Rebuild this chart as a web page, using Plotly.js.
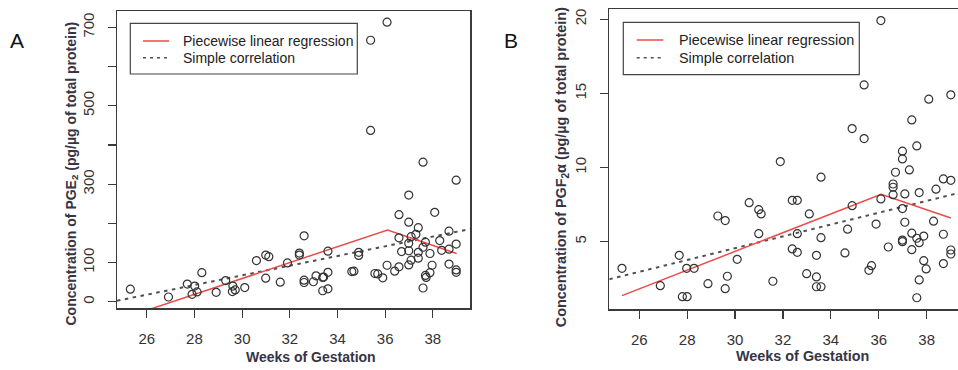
<!DOCTYPE html>
<html>
<head>
<meta charset="utf-8">
<script src="https://cdn.plot.ly/plotly-3.0.1.min.js"></script>
<style>html,body{margin:0;padding:0;background:#fff;overflow:hidden;}#chart{width:958px;height:370px;}</style>
</head>
<body>
<div id="chart"></div>
<script>
// ---------- Panel A : PGE2 ----------
const weeksA = [25.31,26.91,27.70,28.01,27.90,28.11,28.31,28.91,29.31,29.61,29.59,29.71,30.11,30.60,30.99,31.12,30.99,31.60,31.90,32.40,32.40,32.60,32.60,32.60,32.99,33.10,33.38,33.42,33.38,33.60,33.60,33.60,34.60,34.69,34.89,34.89,35.39,36.08,35.39,35.57,35.69,35.90,36.08,36.40,36.58,36.58,36.58,36.69,36.99,36.99,36.99,36.99,36.99,37.09,37.09,37.29,37.39,37.39,37.39,37.59,37.59,37.59,37.69,37.69,37.72,37.88,37.88,37.97,38.08,38.29,38.37,38.68,38.68,38.68,38.98,38.98,38.98,38.98];
const pge2 = [32,12,45,40,19,25,74,24,54,40,26,30,36,105,119,115,60,50,99,124,119,168,55,49,51,66,62,63,28,33,75,129,77,78,126,118,667,713,437,72,71,61,93,78,89,163,222,128,272,203,149,130,94,166,106,172,189,126,111,356,139,35,152,67,62,74,123,93,228,156,131,180,134,96,310,147,81,75];
const pieceA_x = [25.3, 36.1, 39.0];
const pieceA_y = [-36, 183, 123];
const corrA_x = [24.75, 39.56];
const corrA_y = [2.5, 185.3];
const yTicksA = [0,100,300,500,700];   // labelled ticks (R skips 200/400/600 labels)
const yMinorStepA = 100;               // unlabelled ticks every 100

// ---------- Panel B : PGF2alpha ----------
const weeksB = [25.28,26.88,27.67,27.98,28.29,27.80,28.00,28.87,29.28,29.59,29.68,29.59,30.09,30.59,30.99,31.09,30.99,31.58,31.89,32.39,32.60,32.39,32.60,32.60,33.10,32.99,33.40,33.40,33.40,33.59,33.59,33.59,34.59,34.70,34.89,34.89,35.39,35.39,35.59,35.70,35.89,36.09,36.09,36.40,36.60,36.60,36.60,36.70,36.99,36.99,36.99,36.99,36.99,37.09,37.09,37.28,37.38,37.38,37.38,37.59,37.59,37.59,37.69,37.69,37.69,37.88,37.88,37.98,38.09,38.29,38.39,38.70,38.70,38.70,39.01,39.01,39.01,39.01];
const pgf2a = [3.20,2.03,4.08,3.20,3.20,1.29,1.29,2.17,6.73,6.42,2.67,1.83,3.81,7.63,7.16,6.87,5.54,2.33,10.40,7.79,7.79,4.51,4.28,5.54,6.87,2.84,2.62,4.08,1.96,1.96,9.35,5.27,4.24,5.84,12.63,7.43,15.57,11.95,3.07,3.38,6.19,19.91,7.88,4.64,8.89,8.67,8.17,9.68,11.10,10.58,7.23,5.11,5.00,8.22,6.31,9.84,13.21,5.57,4.46,11.46,5.23,1.22,4.93,8.31,2.42,5.38,3.72,3.16,14.61,6.38,8.54,9.23,5.50,3.52,14.90,9.14,4.44,4.17];
const pieceB_x = [25.28, 36.1, 39.01];
const pieceB_y = [1.36, 8.2, 6.6];
const corrB_x = [24.75, 39.56];
const corrB_y = [2.47, 8.37];
const yTicksB = [5,10,15,20];
const xTicks = [26,28,30,32,34,36,38];

const legendLabels = ['Piecewise linear regression', 'Simple correlation'];
const xTitle = 'Weeks of Gestation';
const yTitleA = 'Concentration of PGE<sub>2</sub> (pg/µg of total protein)';
const yTitleB = 'Concentration of PGF<sub>2</sub>α (pg/µg of total protein)';

// ---------- helpers ----------
const W = 958, H = 370;
const px = x => x / W;
const py = y => 1 - y / H;
const FONT = 'Liberation Sans, Arial, sans-serif';
const RED = '#ef4a4a';
const DOT = '#505050';
const AX = '#3a3a3a';

const markerStyle = {symbol: 'circle-open', size: 8, color: '#333', line: {color: '#333', width: 1.2}};

const traces = [
  {x: corrA_x, y: corrA_y, xaxis: 'x', yaxis: 'y', mode: 'lines', line: {color: DOT, width: 2, dash: '3.5px,4.5px'}, showlegend: false},
  {x: pieceA_x, y: pieceA_y, xaxis: 'x', yaxis: 'y', mode: 'lines', line: {color: RED, width: 1.5}, showlegend: false},
  {x: weeksA, y: pge2, xaxis: 'x', yaxis: 'y', mode: 'markers', marker: markerStyle, showlegend: false, cliponaxis: false},
  {x: corrB_x, y: corrB_y, xaxis: 'x2', yaxis: 'y2', mode: 'lines', line: {color: DOT, width: 2, dash: '3.5px,4.5px'}, showlegend: false},
  {x: pieceB_x, y: pieceB_y, xaxis: 'x2', yaxis: 'y2', mode: 'lines', line: {color: RED, width: 1.5}, showlegend: false},
  {x: weeksB, y: pgf2a, xaxis: 'x2', yaxis: 'y2', mode: 'markers', marker: markerStyle, showlegend: false, cliponaxis: false}
];

const tickFont = {family: FONT, size: 15, color: '#333'};
function xaxisDef(domain, range, mirror) {
  return {domain: domain, range: range, showgrid: false, zeroline: false, showline: true, mirror: mirror,
    linecolor: AX, linewidth: 1.5, ticks: 'outside', ticklen: 8, tickwidth: 1.2, tickcolor: AX,
    tickvals: xTicks, ticktext: xTicks.map(String), tickfont: tickFont, ticklabelstandoff: 8, fixedrange: true};
}
function yaxisDef(domain, range, vals, anchor, mirror) {
  return {domain: domain, range: range, anchor: anchor, showgrid: false, zeroline: false, showline: true, mirror: mirror,
    linecolor: AX, linewidth: 1.5, ticks: 'outside', ticklen: 8, tickwidth: 1.2, tickcolor: AX,
    tickvals: vals, ticktext: vals.map(String), tickangle: -90, tickfont: tickFont, ticklabelstandoff: 8, fixedrange: true};
}

const xa = xaxisDef([px(117), px(470)], [24.75, 39.56], true);
xa.anchor = 'y';
const xb = xaxisDef([px(609.3), 1], [24.75, 39.31], true);
xb.anchor = 'y2';
const ya = yaxisDef([py(308), py(11)], [-16, 741.6], yTicksA, 'x', true);
ya.minor = {tick0: 0, dtick: yMinorStepA, ticks: 'outside', ticklen: 8, tickwidth: 1.2, tickcolor: AX, showgrid: false};
const yb = yaxisDef([py(309), py(9.3)], [0.46, 20.67], yTicksB, 'x2', false);

function legendShapes(box, lineX, yRed, yDot) {
  return [
    {type: 'rect', xref: 'paper', yref: 'paper', x0: px(box[0]), x1: px(box[1]), y0: py(box[3]), y1: py(box[2]),
      line: {color: '#444', width: 1.2}, fillcolor: 'rgba(0,0,0,0)'},
    {type: 'line', xref: 'paper', yref: 'paper', x0: px(lineX[0]), x1: px(lineX[1]), y0: py(yRed), y1: py(yRed),
      line: {color: RED, width: 1.5}},
    {type: 'line', xref: 'paper', yref: 'paper', x0: px(lineX[0]), x1: px(lineX[1]), y0: py(yDot), y1: py(yDot),
      line: {color: DOT, width: 1.5, dash: '3px,4px'}}
  ];
}
const shapes = [].concat(
  legendShapes([130.3, 357.3, 23.3, 74], [143, 169], 41, 57.7),
  legendShapes([623.3, 859.3, 22.3, 74.7], [636.7, 663.3], 40, 57.7)
);

function txt(x, y, text, size, opts) {
  return Object.assign({xref: 'paper', yref: 'paper', x: px(x), y: py(y), text: text, showarrow: false,
    font: {family: FONT, size: size, color: '#222'}, xanchor: 'left', yanchor: 'middle'}, opts || {});
}
const TITLE_C = '#353545';
const annotations = [
  txt(181, 41, legendLabels[0], 14),
  txt(181, 57.7, legendLabels[1], 14),
  txt(676.7, 40, legendLabels[0], 14.4),
  txt(676.7, 57.7, legendLabels[1], 14.4),
  txt(311, 357, '<b>' + xTitle + '</b>', 14, {xanchor: 'center', font: {family: FONT, size: 14, color: TITLE_C}}),
  txt(802.6, 356, '<b>' + xTitle + '</b>', 14.4, {xanchor: 'center', font: {family: FONT, size: 14.4, color: TITLE_C}}),
  txt(71, 173.5, '<b>' + yTitleA + '</b>', 14, {xanchor: 'center', textangle: -90, font: {family: FONT, size: 14, color: TITLE_C}}),
  txt(562.7, 167.5, '<b>' + yTitleB + '</b>', 14.4, {xanchor: 'center', textangle: -90, font: {family: FONT, size: 14.4, color: TITLE_C}}),
  txt(17.3, 40.7, 'A', 21, {xanchor: 'center', font: {family: FONT, size: 21, color: '#111'}}),
  txt(510.7, 40, 'B', 21, {xanchor: 'center', font: {family: FONT, size: 21, color: '#111'}})
];

const layout = {
  width: W, height: H, margin: {l: 0, r: 0, t: 0, b: 0, pad: 0},
  paper_bgcolor: '#fff', plot_bgcolor: '#fff', showlegend: false,
  xaxis: xa, yaxis: ya, xaxis2: xb, yaxis2: yb,
  shapes: shapes, annotations: annotations, font: {family: FONT}
};

Plotly.newPlot('chart', traces, layout, {staticPlot: true, displayModeBar: false});
</script>
</body>
</html>
